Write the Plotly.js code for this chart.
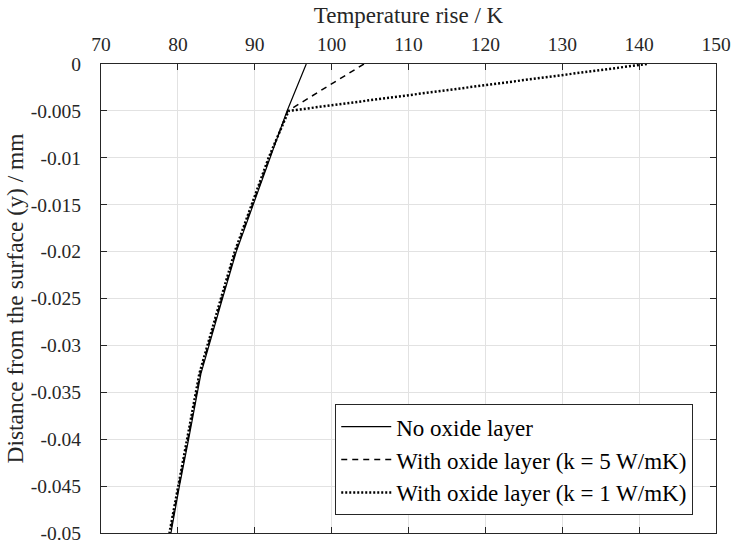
<!DOCTYPE html>
<html>
<head>
<meta charset="utf-8">
<script src="https://cdn.plot.ly/plotly-3.0.1.min.js"></script>
<style>
  html, body { margin: 0; padding: 0; background: #fff; }
  #chart { width: 733px; height: 541px; }
</style>
</head>
<body>
<div id="chart"></div>
<script>
// Depth below the surface (mm) and the temperature rise (K) at each depth
const depth = [0, -0.005, -0.01, -0.015, -0.02, -0.025, -0.03, -0.033, -0.04, -0.045, -0.05];
const tempNoOxide = [96.7, 94.2, 92.0, 89.8, 87.6, 85.8, 84.0, 83.0, 81.4, 80.2, 79.1];
const tempOxideK5 = [104.2, 94.3, 91.9, 89.7, 87.5, 85.7, 83.9, 82.9, 81.3, 80.1, 79.0];
const tempOxideK1 = [141.0, 94.4, 91.8, 89.6, 87.4, 85.6, 83.8, 82.8, 81.2, 80.0, 78.9];

const seriesNames = [
  'No oxide layer',
  'With oxide layer (k = 5 W/mK)',
  'With oxide layer (k = 1 W/mK)'
];

// Axis ticks (labels use a plain hyphen for the minus sign)
const xTicks = [70, 80, 90, 100, 110, 120, 130, 140, 150];
const yTicks = [0, -0.005, -0.01, -0.015, -0.02, -0.025, -0.03, -0.035, -0.04, -0.045, -0.05];
const yTickText = ['0', '-0.005', '-0.01', '-0.015', '-0.02', '-0.025', '-0.03', '-0.035', '-0.04', '-0.045', '-0.05'];

const ink = '#262626';
const serif = '"Liberation Serif"';

const traces = [
  { x: tempNoOxide, y: depth, name: seriesNames[0], mode: 'lines',
    line: { color: '#000', width: 1.2, dash: 'solid' } },
  { x: tempOxideK5, y: depth, name: seriesNames[1], mode: 'lines',
    line: { color: '#000', width: 1.5, dash: '6px,5px' } },
  { x: tempOxideK1, y: depth, name: seriesNames[2], mode: 'lines',
    line: { color: '#000', width: 2.5, dash: '2px,2px' } }
];

const axisCommon = {
  showgrid: true, gridcolor: '#e2e2e2', gridwidth: 1,
  showline: true, linecolor: ink, linewidth: 1, mirror: 'ticks',
  ticks: 'inside', ticklen: 6, tickcolor: ink, tickwidth: 1,
  zeroline: false, ticklabeloverflow: 'allow',
  tickfont: { family: serif, size: 19.5, color: ink }
};

const layout = {
  width: 733, height: 541,
  margin: { l: 101, r: 17, t: 64, b: 8 },
  paper_bgcolor: '#fff', plot_bgcolor: '#fff',
  font: { family: serif, size: 19, color: ink },
  showlegend: true,
  xaxis: Object.assign({}, axisCommon, {
    side: 'top', range: [70, 150], tickvals: xTicks, ticklabelstandoff: 4,
    title: { text: 'Temperature rise / K', font: { family: serif, size: 23, color: ink }, standoff: 4 }
  }),
  yaxis: Object.assign({}, axisCommon, {
    range: [-0.05, 0], tickvals: yTicks, ticktext: yTickText, ticklabelstandoff: 15,
    title: { text: 'Distance from the surface (y) / mm', font: { family: serif, size: 23.5, color: ink }, standoff: 0 }
  }),
  legend: {
    x: 0.963, y: 0.038, xanchor: 'right', yanchor: 'bottom',
    bgcolor: '#fff', bordercolor: ink, borderwidth: 1,
    font: { family: serif, size: 23, color: '#000' },
    itemwidth: 50, tracegroupgap: 0
  }
};

Plotly.newPlot('chart', traces, layout, { staticPlot: true, displayModeBar: false });
</script>
</body>
</html>
